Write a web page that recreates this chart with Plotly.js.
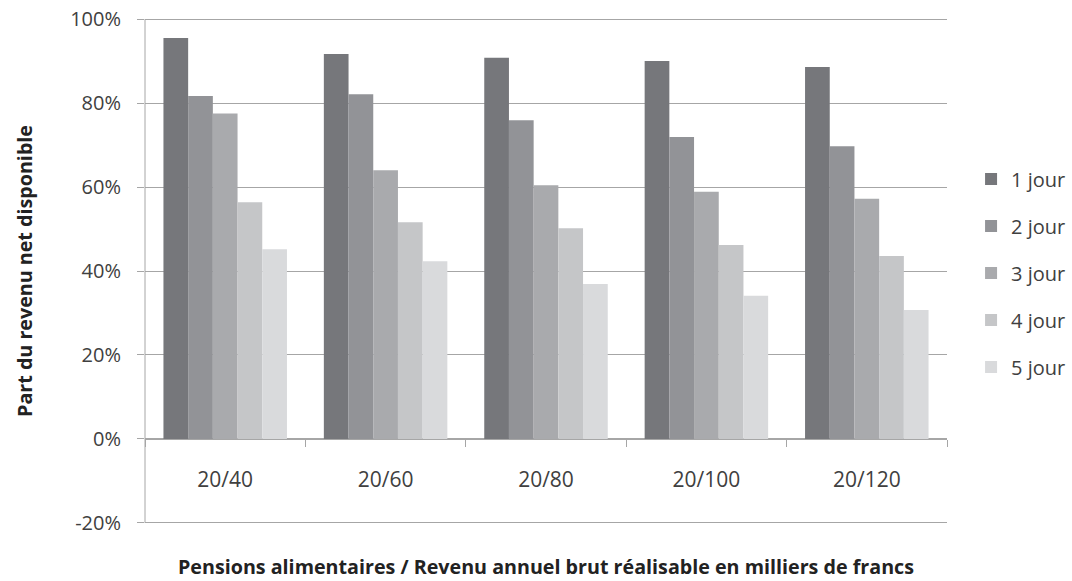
<!DOCTYPE html>
<html>
<head>
<meta charset="utf-8">
<script src="https://cdn.plot.ly/plotly-3.0.1.min.js"></script>
<style>html,body{margin:0;padding:0;background:#fff;}#chart{width:1072px;height:581px;}</style>
</head>
<body>
<div id="chart"></div>
<script>
const categories = ["20/40", "20/60", "20/80", "20/100", "20/120"];
const seriesNames = ["1 jour", "2 jour", "3 jour", "4 jour", "5 jour"];
const jour1 = [0.955, 0.917, 0.908, 0.900, 0.886];
const jour2 = [0.817, 0.821, 0.759, 0.719, 0.697];
const jour3 = [0.775, 0.640, 0.604, 0.589, 0.572];
const jour4 = [0.564, 0.516, 0.502, 0.462, 0.436];
const jour5 = [0.452, 0.423, 0.369, 0.341, 0.307];
const seriesValues = [jour1, jour2, jour3, jour4, jour5];
const colors = ["#76777b", "#929397", "#a9aaad", "#c5c6c8", "#d9dadc"];
const yTicks = [-0.2, 0, 0.2, 0.4, 0.6, 0.8, 1.0];
const yTickText = ["-20%", "0%", "20%", "40%", "60%", "80%", "100%"];

const traces = seriesNames.map((name, i) => ({
  type: "bar",
  name: name,
  x: categories,
  y: seriesValues[i],
  marker: {color: colors[i], line: {width: 0}},
  legendgroup: "g" + i,
  hoverinfo: "x+y+name"
}));

const gridColor = "#a6a6a6";
const font = "'Open Sans', 'DejaVu Sans', sans-serif";
// pad the range a little (>1px) so Plotly draws the gridlines at -20% and 100%
const pad = 0.005;
const yRange = [yTicks[0] - pad, yTicks[yTicks.length - 1] + pad];
const zeroPos = (0 - yRange[0]) / (yRange[1] - yRange[0]);

const layout = {
  width: 1072, height: 581,
  margin: {l: 145, r: 125, t: 17, b: 56, autoexpand: false},
  paper_bgcolor: "#fff", plot_bgcolor: "#fff",
  barmode: "group", bargap: 0.23, bargroupgap: 0,
  font: {family: font, size: 20, color: "#404040"},
  xaxis: {
    type: "category",
    anchor: "free", position: zeroPos,
    showline: true, linecolor: gridColor, linewidth: 1,
    ticks: "outside", ticklen: 7, tickcolor: gridColor, tickson: "boundaries",
    ticklabelstandoff: 22,
    showgrid: false, zeroline: false,
    tickfont: {family: font, size: 21, color: "#404040"},
    title: {text: "Pensions alimentaires / Revenu annuel brut réalisable en milliers de francs",
            font: {family: font, size: 19.7, color: "#222", weight: "bold"}, standoff: 68},
    automargin: false
  },
  yaxis: {
    range: yRange,
    tickvals: yTicks, ticktext: yTickText,
    showline: false,
    ticks: "outside", ticklen: 7, tickcolor: gridColor,
    showgrid: true, gridcolor: gridColor, gridwidth: 1,
    zeroline: false,
    ticklabelstandoff: 12,
    tickfont: {family: font, size: 20, color: "#404040"},
    title: {text: "Part du revenu net disponible",
            font: {family: font, size: 19.7, color: "#222", weight: "bold"}, standoff: 32},
    automargin: false
  },
  shapes: [{
    type: "line", xref: "paper", yref: "y", x0: 0, x1: 0,
    y0: yTicks[0], y1: yTicks[yTicks.length - 1],
    line: {color: gridColor, width: 1}, layer: "above"
  }],
  legend: {
    x: 1.03, xanchor: "left", y: 0.496, yanchor: "middle",
    font: {family: font, size: 20, color: "#404040"},
    traceorder: "grouped", tracegroupgap: 18,
    bgcolor: "rgba(0,0,0,0)"
  },
  showlegend: true
};

Plotly.newPlot("chart", traces, layout, {displayModeBar: false, staticPlot: true});
</script>
</body>
</html>
